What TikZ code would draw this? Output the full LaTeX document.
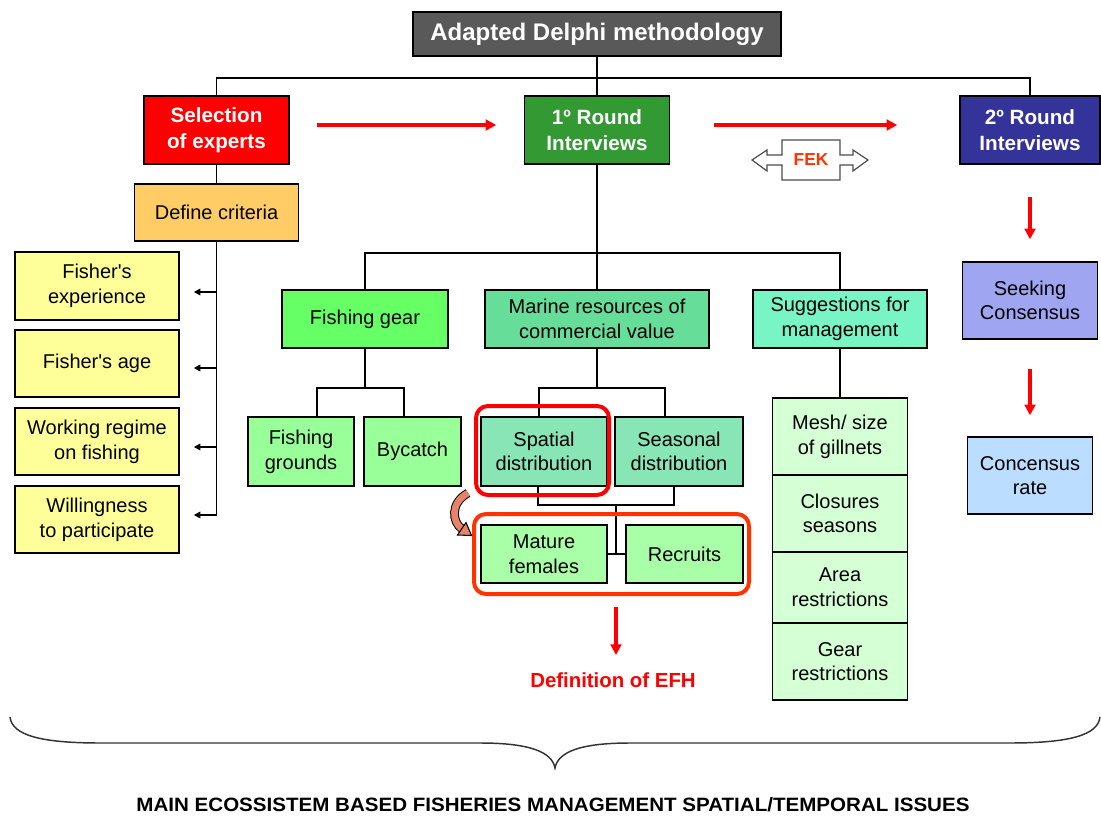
\documentclass[tikz,border=0pt]{standalone}
\usepackage{fontspec}
\usepackage{graphicx}
\setmainfont{Liberation Sans}
\usetikzlibrary{arrows.meta}
\definecolor{cTitle}{HTML}{595959}
\definecolor{cSel}{HTML}{FF0000}
\definecolor{cRone}{HTML}{339933}
\definecolor{cRtwo}{HTML}{333399}
\definecolor{cCrit}{HTML}{FFCC66}
\definecolor{cFish}{HTML}{FFFF99}
\definecolor{cGear}{HTML}{66FF66}
\definecolor{cMarine}{HTML}{66DD99}
\definecolor{cSugg}{HTML}{77F5C5}
\definecolor{cLeaf}{HTML}{99FF99}
\definecolor{cDist}{HTML}{88E5B5}
\definecolor{cLeafB}{HTML}{A8FFA8}
\definecolor{cStack}{HTML}{D5FFD5}
\definecolor{cSeek}{HTML}{9FA5F0}
\definecolor{cRate}{HTML}{BBDDFF}
\definecolor{cSalmon}{HTML}{E8836A}
\definecolor{cFek}{HTML}{FF3300}
\definecolor{cGroup}{HTML}{FF3300}
\begin{document}
\begin{tikzpicture}[x=0.75pt,y=-0.75pt,
  box/.style={draw=black, line width=1.1pt, inner sep=0pt, align=center,
    font=\fontsize{15}{18.5}\selectfont},
  hbox/.style={box, text=white, font=\fontsize{15.5}{19}\selectfont\bfseries},
  conn/.style={draw=black, line width=1.1pt},
  redarr/.style={draw=red, line width=2.4pt, -{Triangle[length=8pt,width=8pt]}},
  blkarr/.style={conn, -{Triangle[length=5pt,width=5pt]}},
  hl/.style={line width=3pt, rounded corners=9pt}]
\useasboundingbox (0,0) rectangle (1101,817);
\fill[white] (0,0) rectangle (1101,817);

% top level
\node[box, fill=cTitle, text=white, font=\fontsize{18}{21}\selectfont\bfseries,
  minimum width=276pt, minimum height=33pt] (title) at (597,34) {Adapted Delphi methodology};
\node[hbox, fill=cSel, minimum width=108.75pt, minimum height=51pt] (sel) at (216.5,130) {Selection\\of experts};
\node[hbox, fill=cRone, minimum width=108.75pt, minimum height=51pt] (r1) at (597,130) {1º Round\\Interviews};
\node[hbox, fill=cRtwo, minimum width=105pt, minimum height=51pt] (r2) at (1030,130) {2º Round\\Interviews};

\coordinate (tj) at (0,78);
\draw[conn] (title.south) -- (r1.north);
\draw[conn] (sel.north) -- (sel.north |- tj) -- (r2.north |- tj) -- (r2.north);

\draw[redarr, shorten <=20.25pt, shorten >=20.6pt] ([yshift=3.75pt]sel.east) -- ([yshift=3.75pt]r1.west);
\draw[redarr, shorten <=32.6pt, shorten >=46.5pt] ([yshift=3.75pt]r1.east) -- ([yshift=3.75pt]r2.west);

% FEK double arrow
\draw[fill=white, draw=black!70, line width=0.9pt]
  (752,160) -- (767,150) -- (767,155) -- (782,155) -- (782,140) -- (840,140) -- (840,155)
  -- (853,155) -- (853,150) -- (868,160) -- (853,171) -- (853,165) -- (840,165) -- (840,180)
  -- (782,180) -- (782,165) -- (767,165) -- (767,171) -- cycle;
\node[text=cFek, font=\fontsize{13}{15}\selectfont\bfseries] (fek) at (811,160) {FEK};

% left branch
\node[box, fill=cCrit, minimum width=123pt, minimum height=42.75pt] (crit) at (216.5,212.5) {Define criteria};
\draw[conn] (sel.south) -- (crit.north);
\node[box, fill=cFish, minimum width=123pt, minimum height=51pt] (f1) at (97,286) {Fisher\textquotesingle s\\experience};
\node[box, fill=cFish, minimum width=123pt, minimum height=50.25pt] (f2) at (97,363.5) {Fisher\textquotesingle s age};
\node[box, fill=cFish, minimum width=123pt, minimum height=50.25pt] (f3) at (97,441.5) {Working regime\\on fishing};
\node[box, fill=cFish, minimum width=123pt, minimum height=50.25pt] (f4) at (97,519.5) {Willingness\\to participate};
\coordinate (ya) at (0,292);
\coordinate (yb) at (0,368);
\coordinate (yc) at (0,447);
\coordinate (yd) at (0,515);
\draw[conn] (crit.south) -- (crit.south |- yd);
\draw[blkarr, shorten >=10.5pt] (crit.south |- ya) -- (f1.east |- ya);
\draw[blkarr, shorten >=10.5pt] (crit.south |- yb) -- (f2.east |- yb);
\draw[blkarr, shorten >=10.5pt] (crit.south |- yc) -- (f3.east |- yc);
\draw[blkarr, shorten >=10.5pt] (crit.south |- yd) -- (f4.east |- yd);

% middle branch
\node[box, fill=cGear, minimum width=124.5pt, minimum height=43.5pt] (gear) at (365,319) {Fishing gear};
\node[box, fill=cMarine, minimum width=168pt, minimum height=43.5pt] (marine) at (597,319) {Marine resources of\\commercial value};
\node[box, fill=cSugg, minimum width=130.5pt, minimum height=43.5pt] (sugg) at (840,319) {Suggestions for\\management};
\coordinate (j2) at (0,253);
\draw[conn] (r1.south) -- (marine.north);
\draw[conn] (gear.north) -- (gear.north |- j2) -- (sugg.north |- j2) -- (sugg.north);

\node[box, fill=cLeaf, minimum width=79.5pt, minimum height=51.75pt] (fg) at (301,451.5) {Fishing\\grounds};
\node[box, fill=cLeaf, minimum width=72.75pt, minimum height=51.75pt] (by) at (412.5,451.5) {Bycatch};
\node[box, fill=cDist, minimum width=94.5pt, minimum height=51.75pt] (sp) at (544,451.5) {Spatial\\distribution};
\node[box, fill=cDist, minimum width=96pt, minimum height=51.75pt] (se) at (679,451.5) {Seasonal\\distribution};
\coordinate (j3) at (0,388);
\draw[conn] (gear.south) -- (gear.south |- j3);
\draw[conn] ([xshift=12pt]fg.north) -- ([xshift=12pt]fg.north |- j3) -- ([xshift=-6.4pt]by.north |- j3) -- ([xshift=-6.4pt]by.north);
\draw[conn] (marine.south) -- (marine.south |- j3);
\draw[conn] ([xshift=-3.75pt]sp.north) -- ([xshift=-3.75pt]sp.north |- j3) -- ([xshift=-10.5pt]se.north |- j3) -- ([xshift=-10.5pt]se.north);

\node[box, fill=cLeafB, minimum width=94.5pt, minimum height=43.5pt] (mf) at (544,554) {Mature\\females};
\node[box, fill=cLeafB, minimum width=87.75pt, minimum height=43.5pt] (rc) at (684.5,554) {Recruits};
\coordinate (j4) at (0,505);
\coordinate (mid) at (616,505);
\draw[conn] ([xshift=-4.5pt]sp.south) -- ([xshift=-4.5pt]sp.south |- j4) -- ([xshift=-3.75pt]se.south |- j4) -- ([xshift=-3.75pt]se.south);
\draw[conn] (mid) -- (mid |- mf.east);
\draw[conn] (mf.east) -- (rc.west);

% highlights
\draw[hl, draw=red] (476,406) rectangle (609,495);
\draw[hl, draw=cGroup] (474,514) rectangle (749,594);

% curved salmon arrow
\draw[black, line width=6.5pt] (468,493) .. controls (450,503) and (452,522) .. (462,529);
\draw[cSalmon, line width=5pt] (468,493) .. controls (450,503) and (452,522) .. (462,529);
\filldraw[fill=cSalmon, draw=black, line width=0.8pt] (466,522.5) -- (471.5,535.5) -- (457.5,535) -- cycle;

% EFH
\node[text=red, font=\fontsize{15.3}{18}\selectfont\bfseries] (efh) at (613,680) {Definition of EFH};
\coordinate (gb) at (616,594);
\coordinate (ea) at (616,655);
\draw[redarr, shorten <=9.75pt] (gb) -- (ea);

% suggestions stack
\node[box, fill=cStack, minimum width=101.25pt, minimum height=57.75pt] (m1) at (840,436.5) {Mesh/ size\\of gillnets};
\node[box, fill=cStack, minimum width=101.25pt, minimum height=57.75pt] (m2) at (840,513.5) {Closures\\seasons};
\node[box, fill=cStack, minimum width=101.25pt, minimum height=53.25pt] (m3) at (840,587.5) {Area\\restrictions};
\node[box, fill=cStack, minimum width=101.25pt, minimum height=57.75pt] (m4) at (840,661.5) {Gear\\restrictions};
\draw[conn] (sugg.south) -- (m1.north);

% right branch
\node[box, fill=cSeek, minimum width=101.25pt, minimum height=57.75pt] (seek) at (1030,300.5) {Seeking\\Consensus};
\node[box, fill=cRate, minimum width=93.75pt, minimum height=57.75pt] (rate) at (1030,475.5) {Concensus\\rate};
\draw[redarr, shorten <=24pt, shorten >=16.5pt] (r2.south) -- (seek.north);
\draw[redarr, shorten <=21.75pt, shorten >=15.75pt] (seek.south) -- (rate.north);

% brace
\draw[black!80, line width=1.1pt] (10,717) .. controls (12,735) and (40,743) .. (100,743) -- (480,743)
  .. controls (530,743) and (552,752) .. (555,768)
  .. controls (558,752) and (580,743) .. (630,743) -- (1010,743)
  .. controls (1070,743) and (1098,735) .. (1100,717);

\node[inner sep=0pt] (bottom) at (553,805) {\resizebox{624.75pt}{10.5pt}{\bfseries MAIN ECOSSISTEM BASED FISHERIES MANAGEMENT SPATIAL/TEMPORAL ISSUES}};
\end{tikzpicture}
\end{document}
